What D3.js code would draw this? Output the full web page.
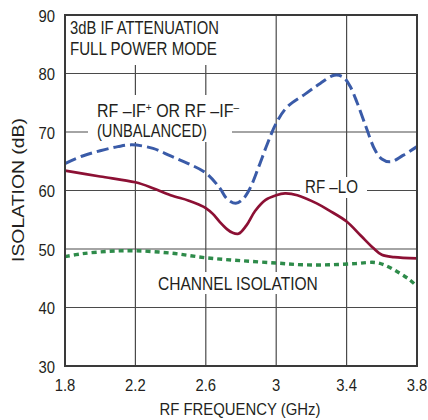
<!DOCTYPE html>
<html>
<head>
<meta charset="utf-8">
<script src="https://cdn.jsdelivr.net/npm/d3@7"></script>
<style>
  html, body { margin: 0; padding: 0; background: #fff; }
  svg text { font-family: "Liberation Sans", Arial, sans-serif; fill: #231f20; }
</style>
</head>
<body>
<svg id="chart" width="428" height="420"></svg>
<script>
// Frequency sweep in GHz, isolation in dB
const xTicks = [1.8, 2.2, 2.6, 3.0, 3.4, 3.8];
const xTickLabels = ["1.8", "2.2", "2.6", "3", "3.4", "3.8"];
const yTicks = [30, 40, 50, 60, 70, 80, 90];

// RF to IF isolation (unbalanced)
const rfIfFreq = [1.8, 1.9, 2.0, 2.1, 2.18, 2.3, 2.4, 2.5, 2.6, 2.68, 2.72, 2.77, 2.81, 2.85, 2.9, 2.95, 3.0, 3.06, 3.17, 3.25, 3.33, 3.38, 3.42, 3.46, 3.51, 3.56, 3.6, 3.65, 3.72, 3.8];
const rfIfIso  = [64.6, 65.9, 66.8, 67.5, 67.8, 67.2, 65.9, 64.6, 63.0, 60.4, 58.6, 57.8, 58.5, 60.3, 64.0, 68.0, 71.5, 74.2, 76.6, 78.3, 79.7, 79.4, 77.8, 75.0, 70.9, 67.0, 65.4, 64.9, 66.0, 67.5];

// RF to LO isolation
const rfLoFreq = [1.8, 2.0, 2.2, 2.3, 2.4, 2.5, 2.56, 2.6, 2.64, 2.68, 2.72, 2.75, 2.785, 2.83, 2.88, 2.94, 3.0, 3.05, 3.12, 3.23, 3.3, 3.4, 3.48, 3.55, 3.6, 3.67, 3.8];
const rfLoIso  = [63.4, 62.4, 61.4, 60.4, 59.2, 58.3, 57.6, 57.0, 56.0, 54.6, 53.4, 52.8, 52.6, 54.0, 56.5, 58.4, 59.2, 59.5, 59.2, 57.8, 56.6, 54.7, 52.3, 50.2, 49.0, 48.6, 48.4];

// Channel-to-channel isolation
const chanFreq = [1.8, 1.9, 2.05, 2.2, 2.4, 2.6, 2.8, 3.0, 3.15, 3.3, 3.45, 3.56, 3.62, 3.7, 3.76, 3.8];
const chanIso  = [48.7, 49.2, 49.6, 49.7, 49.3, 48.5, 48.0, 47.6, 47.3, 47.3, 47.5, 47.7, 47.2, 45.9, 44.7, 43.6];

const svg = d3.select("#chart");
const plot = { left: 65, right: 417, top: 15, bottom: 366 };

const x = d3.scaleLinear().domain([1.8, 3.8]).range([plot.left, plot.right]);
const y = d3.scaleLinear().domain([30, 90]).range([plot.bottom, plot.top]);

// Squeeze a text element horizontally to a given width (condensed look)
function fit(sel, width) {
  const node = sel.node();
  const w = node.getBBox().width;
  const k = width / w;
  const ax = +sel.attr("x");
  const anchor = sel.attr("text-anchor") || "start";
  sel.attr("transform", `translate(${ax},0) scale(${k},1) translate(${-ax},0)`);
  return sel;
}

// Grid
const grid = svg.append("g").attr("stroke", "#4a4a4a").attr("stroke-width", 1.2);
grid.selectAll("line.v").data(xTicks.slice(1, -1)).join("line")
  .attr("x1", d => x(d)).attr("x2", d => x(d))
  .attr("y1", plot.top).attr("y2", plot.bottom);
grid.selectAll("line.h").data(yTicks.slice(1, -1)).join("line")
  .attr("x1", plot.left).attr("x2", plot.right)
  .attr("y1", d => y(d)).attr("y2", d => y(d));

// White panels behind the in-plot notes
const panels = [
  [66, 16, 156, 49],
  [88, 95, 144, 47],
  [300, 177, 67, 21],
  [152, 272, 172, 22]
];
svg.append("g").selectAll("rect").data(panels).join("rect")
  .attr("x", d => d[0]).attr("y", d => d[1])
  .attr("width", d => d[2]).attr("height", d => d[3])
  .attr("fill", "#fff");

// Curves
const line = d3.line().x(d => x(d[0])).y(d => y(d[1])).curve(d3.curveCatmullRom.alpha(0.5));
const zip = (a, b) => a.map((f, i) => [f, b[i]]);

svg.append("path").datum(zip(chanFreq, chanIso)).attr("d", line)
  .attr("fill", "none").attr("stroke", "#2e8b4a").attr("stroke-width", 3.4)
  .attr("stroke-dasharray", "5,4");
svg.append("path").datum(zip(rfLoFreq, rfLoIso)).attr("d", line)
  .attr("fill", "none").attr("stroke", "#8c1034").attr("stroke-width", 2.7);
svg.append("path").datum(zip(rfIfFreq, rfIfIso)).attr("d", line)
  .attr("fill", "none").attr("stroke", "#3a5ba8").attr("stroke-width", 3)
  .attr("stroke-dasharray", "12,5");

// Frame
svg.append("rect")
  .attr("x", plot.left).attr("y", plot.top)
  .attr("width", plot.right - plot.left).attr("height", plot.bottom - plot.top)
  .attr("fill", "none").attr("stroke", "#3a3a3a").attr("stroke-width", 2);

// Axis tick labels
svg.append("g").selectAll("text").data(yTicks).join("text")
  .attr("x", 55).attr("y", d => y(d) + 7)
  .attr("text-anchor", "end").attr("font-size", 16.5)
  .text(d => d)
  .each(function () { fit(d3.select(this), this.getBBox().width * 0.9); });
svg.append("g").selectAll("text").data(xTicks).join("text")
  .attr("x", d => x(d)).attr("y", 391)
  .attr("text-anchor", "middle").attr("font-size", 16.5)
  .text((d, i) => xTickLabels[i])
  .each(function () { fit(d3.select(this), this.getBBox().width * 0.9); });

// Axis titles
fit(svg.append("text").attr("x", 240).attr("y", 415)
  .attr("text-anchor", "middle").attr("font-size", 16.5)
  .text("RF FREQUENCY (GHz)"), 161);
const yTitle = svg.append("text").attr("x", 0).attr("y", 0)
  .attr("text-anchor", "middle").attr("font-size", 16.5)
  .text("ISOLATION (dB)");
const yw = yTitle.node().getBBox().width;
yTitle.attr("transform", `translate(24,190) rotate(-90) scale(${144 / yw},1)`);

// Notes
const note = (tx, ty, str, w) => fit(svg.append("text").attr("x", tx).attr("y", ty).attr("font-size", 17.5).text(str), w);
note(70, 34, "3dB IF ATTENUATION", 149);
note(70, 55, "FULL POWER MODE", 147);
note(97, 137, "(UNBALANCED)", 110);
note(305, 193, "RF –LO", 53);
note(158, 290, "CHANNEL ISOLATION", 160);

const ifNote = svg.append("text").attr("x", 97).attr("y", 117).attr("font-size", 17.5);
ifNote.append("tspan").text("RF –IF");
ifNote.append("tspan").attr("font-size", 11).attr("dy", -6).text("+");
ifNote.append("tspan").attr("dy", 6).text(" OR RF –IF");
ifNote.append("tspan").attr("font-size", 11).attr("dy", -6).text("–");
fit(ifNote, 143);
</script>
</body>
</html>
